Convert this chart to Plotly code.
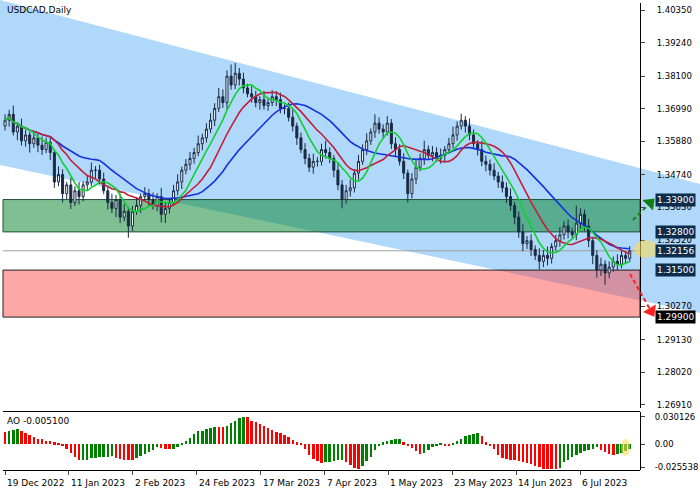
import pandas as pd
import plotly.graph_objects as go

# daily closes, USDCAD
closes = [
    1.3660, 1.3680, 1.3620, 1.3640, 1.3590, 1.3610, 1.3580, 1.3600, 1.3575, 1.3560,
    1.3585, 1.3550, 1.3450, 1.3475, 1.3410, 1.3440, 1.3380, 1.3420, 1.3400, 1.3440,
    1.3450, 1.3490, 1.3490, 1.3460, 1.3420, 1.3380, 1.3360, 1.3390, 1.3330, 1.3350,
    1.3300, 1.3350, 1.3370, 1.3400, 1.3410, 1.3390, 1.3370, 1.3400, 1.3340, 1.3360,
    1.3380, 1.3420, 1.3450, 1.3490, 1.3510, 1.3530, 1.3550, 1.3580, 1.3600, 1.3630,
    1.3660, 1.3700, 1.3740, 1.3720, 1.3810, 1.3780, 1.3820, 1.3800, 1.3770, 1.3750,
    1.3740, 1.3720, 1.3730, 1.3710, 1.3720, 1.3740, 1.3730, 1.3700, 1.3700, 1.3670,
    1.3640, 1.3600, 1.3560, 1.3530, 1.3500, 1.3520, 1.3520, 1.3560, 1.3550, 1.3530,
    1.3490, 1.3440, 1.3390, 1.3420, 1.3430, 1.3480, 1.3520, 1.3560, 1.3590, 1.3620,
    1.3650, 1.3630, 1.3620, 1.3650, 1.3580, 1.3560, 1.3520, 1.3480, 1.3410, 1.3460,
    1.3500, 1.3530, 1.3560, 1.3540, 1.3550, 1.3530, 1.3540, 1.3560, 1.3580, 1.3610,
    1.3640, 1.3660, 1.3640, 1.3610, 1.3580, 1.3560, 1.3520, 1.3510, 1.3490, 1.3470,
    1.3450, 1.3430, 1.3400, 1.3370, 1.3330, 1.3280, 1.3240, 1.3250, 1.3220, 1.3200,
    1.3180, 1.3200, 1.3190, 1.3230, 1.3250, 1.3270, 1.3300, 1.3280, 1.3270, 1.3310,
    1.3340, 1.3300, 1.3250, 1.3200, 1.3150, 1.3170, 1.3140, 1.3160, 1.3180, 1.3170,
    1.3200, 1.3190, 1.32156,
]
first_open = 1.3640

# wick lengths in pips
wick_up = [
    20, 15, 30, 12, 25, 18, 10, 22, 14, 30, 16, 20, 12, 28, 18, 10, 24, 15, 30, 12,
    20, 26, 14, 18, 22, 12, 30, 16, 20, 25, 14, 18, 28, 10, 22, 16, 24, 12, 30, 18,
    14, 20, 26, 12, 18, 22, 16, 28, 14, 20, 24, 18, 30, 25, 20, 40, 35, 18, 22, 14,
    26, 20, 12, 30, 16, 22, 18, 24, 14, 20, 28, 12, 18, 22, 16, 26, 14, 20, 30, 18,
    12, 24, 16, 20, 28, 14, 22, 18, 26, 12, 30, 20, 16, 24, 14, 22, 18, 28, 12, 20,
    26, 16, 30, 14, 22, 18, 24, 12, 20, 28, 16, 22, 14, 26, 18, 12, 30, 20, 16, 24,
    14, 22, 18, 28, 12, 20, 26, 16, 22, 14, 24, 18, 30, 12, 20, 26, 16, 22, 14, 60,
    20, 16, 24, 12, 18, 22, 14, 20, 16, 24, 18, 14, 16,
]
wick_dn = [
    15, 22, 12, 28, 16, 20, 30, 14, 24, 18, 12, 26, 20, 14, 30, 18, 22, 12, 26, 16,
    20, 14, 28, 18, 12, 24, 16, 30, 20, 14, 40, 18, 12, 26, 16, 22, 14, 20, 28, 30,
    18, 12, 16, 24, 14, 20, 18, 12, 22, 16, 14, 20, 12, 18, 24, 16, 14, 22, 18, 12,
    20, 16, 24, 14, 18, 12, 22, 16, 20, 14, 18, 24, 12, 20, 16, 22, 18, 14, 20, 16,
    24, 18, 30, 14, 20, 16, 22, 12, 18, 14, 20, 16, 24, 12, 18, 22, 14, 20, 30, 16,
    18, 14, 22, 16, 20, 12, 18, 24, 14, 16, 20, 12, 22, 18, 14, 20, 16, 24, 18, 14,
    20, 16, 22, 18, 24, 20, 26, 18, 22, 16, 28, 20, 24, 18, 14, 20, 16, 22, 14, 18,
    20, 16, 22, 30, 26, 20, 40, 18, 16, 20, 14, 18, 12,
]

# Awesome Oscillator, x 0.001
ao = [
    13, 15, 16, 16.5, 14, 12, 10, 8, 6, 5.5, 4, 3.5, 2, 0.5, -1, -5, -10, -14, -17.5, -17.3,
    -17, -15.5, -15, -14.5, -14, -13.8, -13, -15, -16.5, -17, -17.2, -17.5, -15, -13, -11, -9,
    -6, -3, -4, -5, -5.5, -5, -3, 1, 4, 7, 11, 14, 15, 17, 18, 19, 18.8, 18.5, 20, 23, 26,
    29, 30, 29.5, 26, 24, 22, 20, 18, 16, 13.5, 12, 10, 8, 5, 2, 0.3, -5, -12, -16, -19,
    -21, -20, -19.5, -18.5, -18, -17, -20, -23, -26, -27, -24, -19, -14, -7, -2, 2, 4, 5,
    5.2, 5.5, 2, -1, -4, -8, -11, -10, -6, -3, -1, 0.5, -1, -1.2, 1, 3, 6, 9, 10, 11, 12,
    9, 2, -1, -5, -12, -15, -16, -17, -18, -19, -20, -21, -22, -24, -25, -27, -27.2, -27.5,
    -27.8, -26, -20, -17, -14, -12, -10, -8, -6, -5, -3, -6, -9, -11, -12, -11, -10, -8, -5.1,
]

date_labels = ["19 Dec 2022", "11 Jan 2023", "2 Feb 2023", "24 Feb 2023", "17 Mar 2023",
               "7 Apr 2023", "1 May 2023", "23 May 2023", "14 Jun 2023", "6 Jul 2023"]

levels = [1.33900, 1.32800, 1.32156, 1.31500, 1.29900]
price_ticks = [1.40350, 1.39240, 1.38100, 1.36990, 1.35880, 1.34740, 1.33630,
               1.32520, 1.30270, 1.29130, 1.28020, 1.26910]
ao_ticks = [0.030126, 0.0, -0.025538]
ao_tick_text = ["0.030126", "0.00", "-0.025538"]

# forecast arrows, in screen pixels (tail, head)
up_arrow_px = ([633, 650], [220, 203])
down_arrow_px = ([630, 651], [274, 311])

n = len(closes)
x = list(range(n))
opens = [first_open] + closes[:-1]
highs = [max(o, c) + u / 10000 for o, c, u in zip(opens, closes, wick_up)]
lows = [min(o, c) - d / 10000 for o, c, d in zip(opens, closes, wick_dn)]
s = pd.Series(closes)
ma_fast = s.rolling(7, min_periods=1).mean()
ma_mid = s.rolling(13, min_periods=1).mean()
ma_slow = s.rolling(24, min_periods=1).mean()
ao_vals = [v / 1000 for v in ao]
ao_cols = ["#ff0000"] + ["#008000" if ao[i] > ao[i - 1] else "#ff0000" for i in range(1, n)]

# pixel helpers for paper coordinates (paper spans x 3..700, y 3..470)
def px(v):
    return (v - 3) / 697

def py(v):
    return (470 - v) / 467

x_end = px(640)

fig = go.Figure()
fig.add_trace(go.Candlestick(
    x=x, open=opens, high=highs, low=lows, close=closes,
    increasing=dict(line=dict(color="#1a2a44", width=1), fillcolor="white"),
    decreasing=dict(line=dict(color="#1a2a44", width=1), fillcolor="#1a2a44"),
    whiskerwidth=0, xaxis="x", yaxis="y", showlegend=False, hoverinfo="skip"))
fig.add_trace(go.Scatter(x=x, y=ma_slow, mode="lines", line=dict(color="#1530e0", width=1.6),
                         xaxis="x", yaxis="y", showlegend=False))
fig.add_trace(go.Scatter(x=x, y=ma_mid, mode="lines", line=dict(color="#c0203a", width=1.6),
                         xaxis="x", yaxis="y", showlegend=False))
fig.add_trace(go.Scatter(x=x, y=ma_fast, mode="lines", line=dict(color="#10d030", width=1.6),
                         xaxis="x", yaxis="y", showlegend=False))
fig.add_trace(go.Bar(x=x, y=ao_vals, marker=dict(color=ao_cols, line=dict(width=0)),
                     width=0.6, xaxis="x", yaxis="y2", showlegend=False))

# arrows on a full-page overlay axis (pixel units)
for (ax_, ay_), col, ang in [(up_arrow_px, "#108010", 45), (down_arrow_px, "#ff2020", 150)]:
    fig.add_trace(go.Scatter(x=ax_, y=ay_, mode="lines", line=dict(color=col, width=2, dash="4px,3px"),
                             xaxis="x3", yaxis="y3", showlegend=False, hoverinfo="skip"))
    fig.add_trace(go.Scatter(x=[ax_[1]], y=[ay_[1]], mode="markers",
                             marker=dict(symbol="triangle-up", size=13, color=col, angle=ang),
                             xaxis="x3", yaxis="y3", showlegend=False, hoverinfo="skip"))

# channel
fig.add_shape(type="path", xref="paper", yref="paper", layer="below",
              path=f"M {px(0)},{py(0)} L {px(700)},{py(184)} L {px(700)},{py(313)} L {px(0)},{py(165)} Z",
              fillcolor="#b0d8fa", line=dict(width=0))
# support / resistance zones
fig.add_shape(type="rect", xref="paper", yref="y", layer="below", x0=0, x1=x_end,
              y0=levels[1], y1=levels[0], fillcolor="rgba(0,130,40,0.5)",
              line=dict(color="#1f5030", width=1))
fig.add_shape(type="rect", xref="paper", yref="y", layer="below", x0=0, x1=x_end,
              y0=levels[4], y1=levels[3], fillcolor="rgba(255,60,60,0.45)",
              line=dict(color="#202020", width=1))
fig.add_shape(type="line", xref="paper", yref="y", layer="below", x0=0, x1=x_end,
              y0=levels[2], y1=levels[2], line=dict(color="#a0a0a0", width=1))
# highlights
fig.add_shape(type="circle", xref="paper", yref="paper", x0=px(634), x1=px(658),
              y0=py(258), y1=py(240), fillcolor="rgba(250,220,90,0.6)", line=dict(width=0))
fig.add_shape(type="circle", xref="paper", yref="paper", x0=px(621), x1=px(630),
              y0=py(456), y1=py(439), fillcolor="rgba(250,220,90,0.6)", line=dict(width=0))

ann = [
    dict(x=0.003, y=1.0, xref="paper", yref="paper", xanchor="left", yanchor="top",
         showarrow=False, text="USDCAD,Daily", font=dict(size=9, color="black")),
    dict(x=0.003, y=py(414), xref="paper", yref="paper", xanchor="left", yanchor="top",
         showarrow=False, text=f"AO {ao_vals[-1]:.6f}", font=dict(size=9, color="black")),
]
for lv in levels:
    ann.append(dict(x=px(655), y=lv, xref="paper", yref="y", xanchor="left", yanchor="middle",
                    showarrow=False, text=f"{lv:.5f}", bgcolor="#000000" if lv == levels[4] else "#0d2b4b",
                    font=dict(size=9, color="white"), borderpad=1))
for k, lab in enumerate(date_labels):
    ann.append(dict(x=k * 15.55, y=-0.012, xref="x", yref="paper", xanchor="left", yanchor="top",
                    showarrow=False, text=lab, font=dict(size=9, color="black")))

fig.update_layout(
    width=700, height=500, margin=dict(l=3, r=0, t=3, b=30, autoexpand=False),
    paper_bgcolor="white", plot_bgcolor="rgba(0,0,0,0)",
    font=dict(family="DejaVu Sans", size=9, color="black"),
    bargap=0, annotations=ann,
    xaxis=dict(domain=[0, x_end], range=[-0.5, 154.5], anchor="y2", showgrid=False,
               zeroline=False, tickvals=[k * 15.55 for k in range(len(date_labels))],
               ticktext=[""] * len(date_labels), ticks="outside", ticklen=4, showline=True,
               linecolor="black", mirror=True, rangeslider=dict(visible=False)),
    yaxis=dict(domain=[0.133, 1], range=[1.2681, 1.4059], side="right", anchor="free",
               position=x_end, showgrid=False, zeroline=False, tickvals=price_ticks,
               ticktext=[f"{t:.5f}" for t in price_ticks], tickfont=dict(size=8.5),
               ticks="outside", ticklen=4, ticklabelstandoff=10, showline=True,
               linecolor="black", mirror=True),
    yaxis2=dict(domain=[0, 0.124], range=[-0.0285, 0.0355], side="right", anchor="free",
                position=x_end, showgrid=False, zeroline=False, tickvals=ao_ticks,
                ticktext=ao_tick_text, tickfont=dict(size=8.5), ticks="outside", ticklen=4,
                ticklabelstandoff=8, showline=True, linecolor="black", mirror=True),
    xaxis3=dict(domain=[0, 1], range=[3, 700], visible=False, anchor="y3"),
    yaxis3=dict(domain=[0, 1], range=[470, 3], visible=False, anchor="x3"),
)

fig.write_html("out.html", config={"displayModeBar": False},
               post_script="document.body.style.margin='0';")
